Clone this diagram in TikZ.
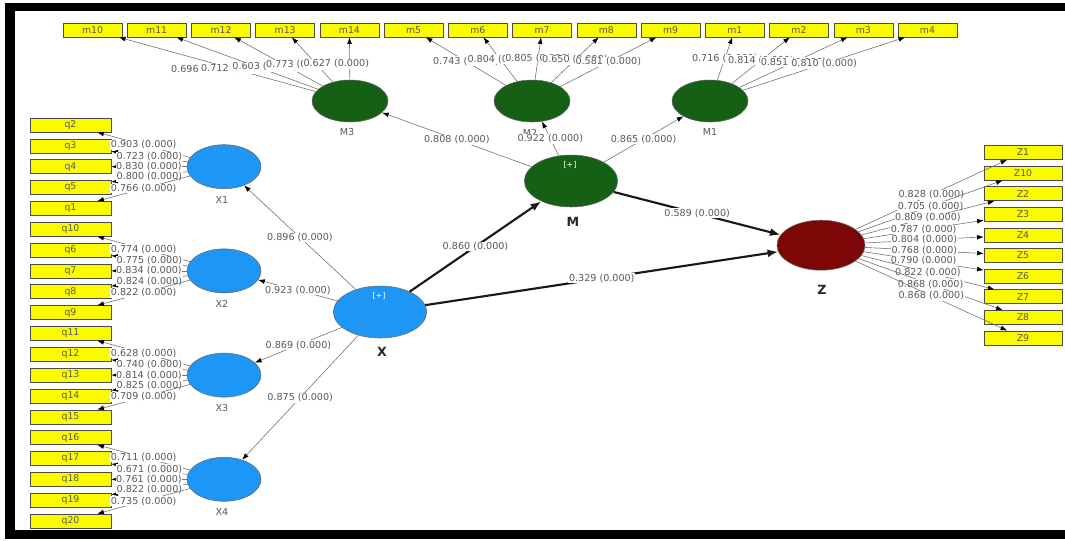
\documentclass[tikz,border=0pt]{standalone}
\usepackage{fontspec}
\setmainfont{DejaVu Sans}
\usepackage{tikz}
\usepackage{xcolor}
\usetikzlibrary{arrows.meta,shapes.geometric}
\tikzset{>=Latex}
\definecolor{lvblue}{RGB}{30,150,245}
\definecolor{lvgreen}{RGB}{22,96,22}
\definecolor{lvred}{RGB}{125,6,6}
\definecolor{itemyellow}{RGB}{250,250,0}
\tikzset{
  item/.style={draw=black!70, fill=itemyellow, text=black!65, inner sep=0pt,
    font=\fontsize{7}{8}\selectfont, minimum width=60.75pt, minimum height=10.5pt},
  mitem/.style={item, minimum width=44.25pt},
  zitem/.style={item, minimum width=58.5pt},
  lv/.style={ellipse, draw=black!60, line width=0.4pt, inner sep=0pt},
  lvx/.style={lv, fill=lvblue, minimum width=55.5pt, minimum height=33pt},
  lvm/.style={lv, fill=lvgreen, minimum width=57pt, minimum height=31.5pt},
  big/.style={minimum width=70pt, minimum height=39pt},
  coef/.style={fill=white, text=black!65, inner sep=0.5pt, font=\fontsize{7.2}{8}\selectfont},
  lvname/.style={text=black!65, font=\fontsize{7.2}{8}\selectfont},
  bigname/.style={text=black!85, font=\fontsize{9.5}{10}\selectfont\bfseries},
  plus/.style={text=white, font=\fontsize{6}{7}\selectfont},
  loadarr/.style={draw=black!55, line width=0.45pt, -{Latex[length=5pt, width=3.6pt, color=black]}},
  mainarr/.style={draw=black!90, line width=1.6pt, -{Latex[length=8pt, width=6pt]}},
  shiftlbl/.style={xshift=-10pt, yshift=-4pt}
}

\begin{document}
\begin{tikzpicture}[x=0.75pt, y=-0.75pt]
\useasboundingbox (0,0) rectangle (1065,540);

% indicators of X1 .. X4
\node[item] (q2) at (70.5,125.0) {q2};
\node[item] (q3) at (70.5,145.8) {q3};
\node[item] (q4) at (70.5,166.7) {q4};
\node[item] (q5) at (70.5,187.5) {q5};
\node[item] (q1) at (70.5,208.4) {q1};
\node[item] (q10) at (70.5,229.2) {q10};
\node[item] (q6) at (70.5,250.0) {q6};
\node[item] (q7) at (70.5,270.9) {q7};
\node[item] (q8) at (70.5,291.7) {q8};
\node[item] (q9) at (70.5,312.6) {q9};
\node[item] (q11) at (70.5,333.4) {q11};
\node[item] (q12) at (70.5,354.2) {q12};
\node[item] (q13) at (70.5,375.1) {q13};
\node[item] (q14) at (70.5,395.9) {q14};
\node[item] (q15) at (70.5,416.8) {q15};
\node[item] (q16) at (70.5,437.6) {q16};
\node[item] (q17) at (70.5,458.4) {q17};
\node[item] (q18) at (70.5,479.3) {q18};
\node[item] (q19) at (70.5,500.1) {q19};
\node[item] (q20) at (70.5,521.0) {q20};

% indicators of M3, M2, M1
\node[mitem] (m10) at (92.5,30) {m10};
\node[mitem] (m11) at (156.7,30) {m11};
\node[mitem] (m12) at (221.0,30) {m12};
\node[mitem] (m13) at (285.2,30) {m13};
\node[mitem] (m14) at (349.4,30) {m14};
\node[mitem] (m5) at (413.6,30) {m5};
\node[mitem] (m6) at (477.9,30) {m6};
\node[mitem] (m7) at (542.1,30) {m7};
\node[mitem] (m8) at (606.3,30) {m8};
\node[mitem] (m9) at (670.6,30) {m9};
\node[mitem] (m1) at (734.8,30) {m1};
\node[mitem] (m2) at (799.0,30) {m2};
\node[mitem] (m3) at (863.3,30) {m3};
\node[mitem] (m4) at (927.5,30) {m4};

% indicators of Z
\node[zitem] (z1) at (1023,152.5) {Z1};
\node[zitem] (z10) at (1023,173.1) {Z10};
\node[zitem] (z2) at (1023,193.7) {Z2};
\node[zitem] (z3) at (1023,214.3) {Z3};
\node[zitem] (z4) at (1023,234.9) {Z4};
\node[zitem] (z5) at (1023,255.5) {Z5};
\node[zitem] (z6) at (1023,276.1) {Z6};
\node[zitem] (z7) at (1023,296.7) {Z7};
\node[zitem] (z8) at (1023,317.3) {Z8};
\node[zitem] (z9) at (1023,337.9) {Z9};

% latent variables
\node[lvx] (X1) at (224,166.7) {};
\node[lvx] (X2) at (224,270.9) {};
\node[lvx] (X3) at (224,375.1) {};
\node[lvx] (X4) at (224,479.3) {};
\node[lvx, big] (X) at (380,312) {};
\node[lvm] (M3) at (350,101) {};
\node[lvm] (M2) at (532,101) {};
\node[lvm] (M1) at (710,101) {};
\node[lvm, big] (M) at (571,181) {};
\node[lv, fill=lvred, minimum width=66pt, minimum height=37.5pt] (Z) at (821,245.2) {};

\node[plus] (Xplus) at (379,296) {[+]};
\node[plus] (Mplus) at (570,165) {[+]};

\node[lvname] (X1name) at (222,200) {X1};
\node[lvname] (X2name) at (222,304) {X2};
\node[lvname] (X3name) at (222,408) {X3};
\node[lvname] (X4name) at (222,512) {X4};
\node[lvname] (M3name) at (347,132) {M3};
\node[lvname] (M2name) at (530,133) {M2};
\node[lvname] (M1name) at (710,132) {M1};
\node[bigname] (Mname) at (573,222) {M};
\node[bigname] (Xname) at (382,352) {X};
\node[bigname] (Zname) at (822,290) {Z};

% outer loadings
\draw[loadarr] (X1) -- node[coef] {0.903 (0.000)} (q2);
\draw[loadarr] (X1) -- node[coef] {0.723 (0.000)} (q3);
\draw[loadarr] (X1) -- node[coef] {0.830 (0.000)} (q4);
\draw[loadarr] (X1) -- node[coef] {0.800 (0.000)} (q5);
\draw[loadarr] (X1) -- node[coef] {0.766 (0.000)} (q1);

\draw[loadarr] (X2) -- node[coef] {0.774 (0.000)} (q10);
\draw[loadarr] (X2) -- node[coef] {0.775 (0.000)} (q6);
\draw[loadarr] (X2) -- node[coef] {0.834 (0.000)} (q7);
\draw[loadarr] (X2) -- node[coef] {0.824 (0.000)} (q8);
\draw[loadarr] (X2) -- node[coef] {0.822 (0.000)} (q9);

\draw[loadarr] (X3) -- node[coef] {0.628 (0.000)} (q11);
\draw[loadarr] (X3) -- node[coef] {0.740 (0.000)} (q12);
\draw[loadarr] (X3) -- node[coef] {0.814 (0.000)} (q13);
\draw[loadarr] (X3) -- node[coef] {0.825 (0.000)} (q14);
\draw[loadarr] (X3) -- node[coef] {0.709 (0.000)} (q15);

\draw[loadarr] (X4) -- node[coef] {0.711 (0.000)} (q16);
\draw[loadarr] (X4) -- node[coef] {0.671 (0.000)} (q17);
\draw[loadarr] (X4) -- node[coef] {0.761 (0.000)} (q18);
\draw[loadarr] (X4) -- node[coef] {0.822 (0.000)} (q19);
\draw[loadarr] (X4) -- node[coef] {0.735 (0.000)} (q20);

\draw[loadarr] (M3) -- node[coef, shiftlbl] {0.696 (0.000)} (m10);
\draw[loadarr] (M3) -- node[coef, shiftlbl] {0.712 (0.000)} (m11);
\draw[loadarr] (M3) -- node[coef, shiftlbl] {0.603 (0.000)} (m12);
\draw[loadarr] (M3) -- node[coef, shiftlbl] {0.773 (0.000)} (m13);
\draw[loadarr] (M3) -- node[coef, shiftlbl] {0.627 (0.000)} (m14);

\draw[loadarr] (M2) -- node[coef] {0.743 (0.000)} (m5);
\draw[loadarr] (M2) -- node[coef] {0.804 (0.000)} (m6);
\draw[loadarr] (M2) -- node[coef] {0.805 (0.000)} (m7);
\draw[loadarr] (M2) -- node[coef] {0.650 (0.000)} (m8);
\draw[loadarr] (M2) -- node[coef] {0.581 (0.000)} (m9);

\draw[loadarr] (M1) -- node[coef] {0.716 (0.000)} (m1);
\draw[loadarr] (M1) -- node[coef] {0.814 (0.000)} (m2);
\draw[loadarr] (M1) -- node[coef] {0.851 (0.000)} (m3);
\draw[loadarr] (M1) -- node[coef] {0.810 (0.000)} (m4);

\draw[loadarr] (Z) -- node[coef] {0.828 (0.000)} (z1);
\draw[loadarr] (Z) -- node[coef] {0.705 (0.000)} (z10);
\draw[loadarr] (Z) -- node[coef] {0.809 (0.000)} (z2);
\draw[loadarr] (Z) -- node[coef] {0.787 (0.000)} (z3);
\draw[loadarr] (Z) -- node[coef] {0.804 (0.000)} (z4);
\draw[loadarr] (Z) -- node[coef] {0.768 (0.000)} (z5);
\draw[loadarr] (Z) -- node[coef] {0.790 (0.000)} (z6);
\draw[loadarr] (Z) -- node[coef] {0.822 (0.000)} (z7);
\draw[loadarr] (Z) -- node[coef] {0.868 (0.000)} (z8);
\draw[loadarr] (Z) -- node[coef] {0.868 (0.000)} (z9);

% second order paths
\draw[loadarr] (X) -- node[coef] {0.896 (0.000)} (X1);
\draw[loadarr] (X) -- node[coef] {0.923 (0.000)} (X2);
\draw[loadarr] (X) -- node[coef] {0.869 (0.000)} (X3);
\draw[loadarr] (X) -- node[coef] {0.875 (0.000)} (X4);
\draw[loadarr] (M) -- node[coef] {0.808 (0.000)} (M3);
\draw[loadarr] (M) -- node[coef] {0.922 (0.000)} (M2);
\draw[loadarr] (M) -- node[coef] {0.865 (0.000)} (M1);

% structural model
\draw[mainarr] (X) -- node[coef] {0.860 (0.000)} (M);
\draw[mainarr] (X) -- node[coef] {0.329 (0.000)} (Z);
\draw[mainarr] (M) -- node[coef] {0.589 (0.000)} (Z);

% frame
\fill[black] (5,3) rectangle (1065,11);
\fill[black] (5,3) rectangle (15,539);
\fill[black] (5,530) rectangle (1065,539);
\end{tikzpicture}
\end{document}
